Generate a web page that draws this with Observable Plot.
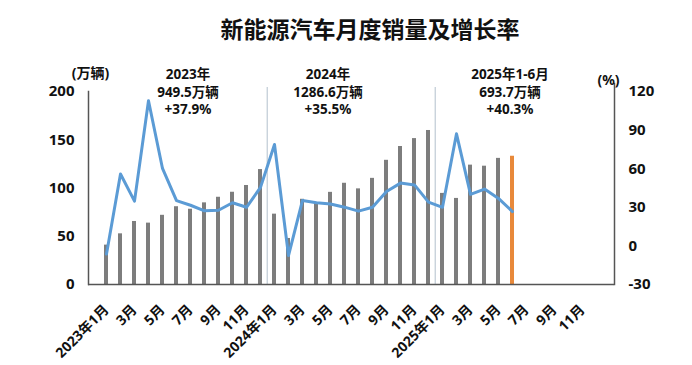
<!DOCTYPE html>
<html><head><meta charset="utf-8">
<script src="https://cdn.jsdelivr.net/npm/d3@7"></script>
<script src="https://cdn.jsdelivr.net/npm/@observablehq/plot@0.6"></script>
<style>
body{margin:0;background:#fff;font-family:"Noto Sans","Noto Sans CJK SC",sans-serif;}
#title{position:relative;height:44px;width:692px;}
#title span{position:absolute;left:370px;top:17px;line-height:23px;transform:translateX(-50%);font-size:23px;font-weight:bold;color:#111;font-family:"Noto Sans CJK SC",sans-serif;white-space:nowrap;}
</style>
</head><body>
<div id="title"><span>新能源汽车月度销量及增长率</span></div>
<div id="chart"></div>
<script>
// Data (万辆, %)
const years = [2023, 2024, 2025];
const sales2023 = [40.8, 52.5, 65.3, 63.6, 71.7, 80.6, 78.0, 84.6, 90.4, 95.6, 102.6, 119.1];
const sales2024 = [72.9, 47.7, 88.3, 85.0, 95.5, 104.9, 99.1, 110.0, 128.7, 143.0, 151.2, 159.6];
const sales2025 = [94.4, 89.2, 123.7, 122.6, 130.7, 132.9];
const growth2023 = [-6.3, 55.9, 34.8, 112.8, 60.2, 35.2, 31.6, 27.3, 27.7, 33.5, 30.0, 45.5];
const growth2024 = [78.8, -7.5, 35.3, 33.5, 32.5, 30.1, 27.0, 30.0, 42.3, 48.8, 47.4, 34.0];
const growth2025 = [30.0, 87.1, 40.1, 44.2, 36.9, 26.7];
const leftTicks = [0, 50, 100, 150, 200];
const rightTicks = [-30, 0, 30, 60, 90, 120];
const separators = ["2024-01", "2025-01"];
const annoMonths = ["2023-07", "2024-05", "2025-06"];
const annoTexts = ["2023年\n949.5万辆\n+37.9%", "2024年\n1286.6万辆\n+35.5%", "2025年1-6月\n693.7万辆\n+40.3%"];
const annoDx = [-1.5, 1, 4];

const monthKeys = [];
years.forEach(y => { for (let m = 1; m <= 12; m++) monthKeys.push(`${y}-${String(m).padStart(2, "0")}`); });
const monthLabel = k => { const [y, m] = k.split("-").map(Number); return m === 1 ? `${y}年1月` : `${m}月`; };
const tickKeys = monthKeys.filter(k => Number(k.split("-")[1]) % 2 === 1);

const sales = [...sales2023, ...sales2024, ...sales2025];
const growth = [...growth2023, ...growth2024, ...growth2025];
const data = sales.map((v, i) => ({month: monthKeys[i], sales: v, growth: growth[i], last: i === sales.length - 1}));

const toLeft = p => (p + 30) * 200 / 150;   // map % to left-axis units
const W = 692, ML = 88, MR = 78;
const step = (W - ML - MR) / monthKeys.length;
const gray = "#7d7d7d", orange = "#e8893a", blue = "#5b9bd5", axisColor = "#555";
const anno = annoMonths.map((m, i) => ({month: m, text: annoTexts[i], dx: annoDx[i]}));

const chart = Plot.plot({
  width: W, height: 321,
  marginLeft: ML, marginRight: MR, marginTop: 47, marginBottom: 81,
  style: {fontFamily: '"Noto Sans","Noto Sans CJK SC",sans-serif', color: "#111", background: "#fff"},
  x: {type: "band", domain: monthKeys, paddingInner: 0.72, paddingOuter: 0.36},
  y: {domain: [0, 200]},
  marks: [
    Plot.ruleX(separators, {x: d => d, dx: -step / 2, stroke: "#b3c0cc", strokeWidth: 1, insetTop: -4}),
    Plot.barY(data.filter(d => !d.last), {x: "month", y: "sales", fill: gray}),
    Plot.barY(data.filter(d => d.last), {x: "month", y: "sales", fill: orange}),
    Plot.line(data, {x: "month", y: d => toLeft(d.growth), stroke: blue, strokeWidth: 3, strokeLinejoin: "round", strokeLinecap: "round"}),
    Plot.ruleY([0], {stroke: axisColor, strokeWidth: 1.5}),
    Plot.frame({anchor: "left", stroke: axisColor, strokeWidth: 1.5}),
    Plot.frame({anchor: "right", stroke: axisColor, strokeWidth: 1.5, insetTop: -8}),
    Plot.axisY({anchor: "left", ticks: leftTicks, tickSize: 0, tickPadding: 14, label: null, fontSize: 15, fontWeight: "bold"}),
    Plot.axisY({anchor: "right", ticks: rightTicks.map(toLeft), tickFormat: v => String(Math.round(v * 150 / 200 - 30)), tickSize: 0, tickPadding: 14, label: null, fontSize: 15, fontWeight: "bold"}),
    Plot.axisX({ticks: tickKeys, tickFormat: monthLabel, tickRotate: -45, tickSize: 0, tickPadding: 23, textAnchor: "end", lineAnchor: "middle", label: null, fontSize: 14, fontWeight: "bold"}),
    Plot.text(anno, {x: "month", text: "text", dx: "dx", frameAnchor: "top", lineAnchor: "middle", dy: 5, fontSize: 13.5, fontWeight: "bold", lineHeight: 1.3}),
    Plot.text(["(万辆)"], {frameAnchor: "top-left", textAnchor: "middle", dx: 2, dy: -23, fontSize: 14, fontWeight: "bold"}),
    Plot.text(["(%)"], {frameAnchor: "top-right", textAnchor: "middle", dx: -6, dy: -16, fontSize: 14, fontWeight: "bold"})
  ]
});
document.getElementById("chart").appendChild(chart);
</script>
</body></html>
